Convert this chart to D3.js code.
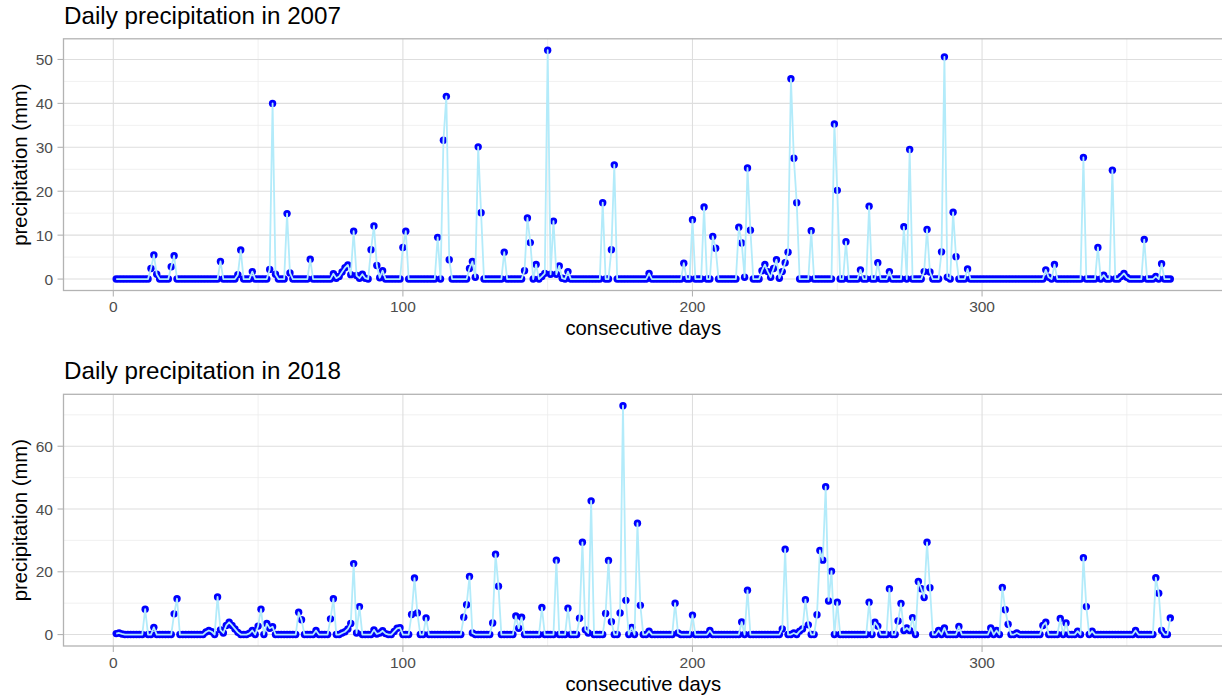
<!DOCTYPE html>
<html>
<head>
<meta charset="utf-8">
<script src="https://cdn.jsdelivr.net/npm/d3@7"></script>
<style>
html,body{margin:0;padding:0;background:#fff;}
svg{display:block;font-family:"Liberation Sans",Arial,Helvetica,sans-serif;}
</style>
</head>
<body>
<svg id="chart" width="1222" height="698"></svg>
<script>
// ---- data (mm per day, day 1..365) ----
const titles = ["Daily precipitation in 2007", "Daily precipitation in 2018"];
const xLabel = "consecutive days";
const yLabel = "precipitation (mm)";
const xTicks = [0, 100, 200, 300];
const yTicks2007 = [0, 10, 20, 30, 40, 50];
const yTicks2018 = [0, 20, 40, 60];

const precip2007 = [
  0,0,0,0,0,0,0,0,0,0,            // 1-10
  0,0,2.4,5.5,1.1,0,0,0,0,2.8,    // 11-20
  5.3,0,0,0,0,0,0,0,0,0,          // 21-30
  0,0,0,0,0,0,4.0,0,0,0,          // 31-40
  0,0,1.0,6.6,0,0,0,1.7,0,0,      // 41-50
  0,0,0,2.2,40.0,1.1,0,0,0,14.9,  // 51-60
  1.4,0,0,0,0,0,0,4.5,0,0,        // 61-70
  0,0,0,0,0,1.2,0.2,0.6,1.6,2.6,  // 71-80
  3.2,1.0,10.9,0.8,0.2,1.1,0.2,0,6.7,12.1, // 81-90
  3.1,0.3,1.9,0,0,0,0,0,0,7.2,    // 91-100
  10.9,0,0,0,0,0,0,0,0,0,         // 101-110
  0,9.5,0,31.6,41.6,4.4,0,0,0,0,  // 111-120
  0,0,2.4,4.0,0.4,30.1,15.1,0,0,0, // 121-130
  0,0,0,0,6.1,0,0,0,0,0,          // 131-140
  0,1.9,13.9,8.3,0,3.3,0,0.6,1.3,52.1, // 141-150
  1.1,13.2,1.1,3.0,0.2,0,1.7,0,0,0, // 151-160
  0,0,0,0,0,0,0,0,17.4,0,         // 161-170
  0,6.7,26.0,0,0,0,0,0,0,0,       // 171-180
  0,0,0,0,1.3,0,0,0,0,0,          // 181-190
  0,0,0,0,0,0,3.6,0,0,13.5,       // 191-200
  0,0,0,16.4,0,0,9.7,7.0,0,0,     // 201-210
  0,0,0,0,0,11.8,8.2,0.4,25.3,11.1, // 211-220
  0,0,0,1.9,3.3,1.7,0.4,2.4,4.4,0.2, // 221-230
  1.7,3.7,6.1,45.6,27.5,17.4,0,0,0,0, // 231-240
  11.0,0,0,0,0,0,0,0,35.3,20.2,   // 241-250
  0,0,8.5,0,0,0,0,2.1,0,0,        // 251-260
  16.6,0,0,3.7,0,0,0,1.7,0,0,     // 261-270
  0,0,11.9,0,29.5,0,0,0,0,1.7,    // 271-280
  11.3,1.6,0,0,0,6.2,50.6,0.4,0,15.2, // 281-290
  5.1,0,0,0,2.3,0,0,0,0,0,        // 291-300
  0,0,0,0,0,0,0,0,0,0,            // 301-310
  0,0,0,0,0,0,0,0,0,0,            // 311-320
  0,2.1,0.4,0,3.3,0,0,0,0,0,      // 321-330
  0,0,0,0,27.7,0,0,0,0,7.2,       // 331-340
  0,0.9,0,0,24.8,0,0,0.6,1.3,0.4, // 341-350
  0,0,0,0,0,9.0,0,0,0,0.6,        // 351-360
  0,3.5,0,0,0                     // 361-365
];

const precip2018 = [
  0.3,0.5,0.2,0,0,0,0,0,0,0,      // 1-10
  8.1,0,0,2.3,0,0,0,0,0,0,        // 11-20
  6.6,11.4,0,0,0,0,0,0,0,0,       // 21-30
  0,0.8,1.3,0.9,0,12.0,1.5,0.5,2.9,3.9, // 31-40
  2.9,1.8,0.7,0,0,0,0.4,1.3,0,2.7, // 41-50
  8.1,0,3.5,2.0,2.5,0,0,0,0,0,    // 51-60
  0,0,0,7.1,4.7,0,0,0,0,1.3,      // 61-70
  0,0,0,0,5.0,11.4,0,0,0.5,0.9,   // 71-80
  1.8,3.5,22.6,0.5,8.9,0,0,0,0,1.5, // 81-90
  0.2,0.5,1.2,0.3,0,0,1.0,2.0,2.2,0, // 91-100
  0,0,6.4,18.0,6.9,0,0,5.3,0,0,   // 101-110
  0,0,0,0,0,0,0,0,0,0,            // 111-120
  5.5,9.5,18.5,0.5,0,0,0,0,0,0,   // 121-130
  3.7,25.6,15.4,0,0,0,0,0,5.9,2.0, // 131-140
  5.5,0,0,0,0,0,0,8.6,0,0,        // 141-150
  0,0,23.7,0,0,0,8.4,0,0,0,       // 151-160
  5.2,29.4,1.5,0.5,42.6,0,0,0,0,6.7, // 161-170
  23.6,4.1,0,0,6.9,72.9,10.9,0,2.3,0, // 171-180
  35.5,9.3,0,0,1.1,0,0,0,0,0,     // 181-190
  0,0,0,10.0,0.5,0,0,0,0,6.2,     // 191-200
  0,0,0,0,0,1.3,0,0,0,0,          // 201-210
  0,0,0,0,0,0,4.0,0,14.1,0,       // 211-220
  0,0,0,0,0,0,0,0,0,0,            // 221-230
  1.8,27.2,0,0,0.5,0,1.1,1.8,11.1,3.1, // 231-240
  0,0,6.3,26.8,23.7,47.1,10.7,20.2,0,10.3, // 241-250
  0,0,0,0,0,0,0,0,0,0,            // 251-260
  10.3,0,3.9,2.7,0,0,0,14.6,0,0,  // 261-270
  4.3,9.9,1.3,2.1,1.3,5.4,0,16.9,14.6,11.8, // 271-280
  29.4,14.9,0,0,1.3,0,2.1,0,0,0,  // 281-290
  0,2.6,0,0,0,0,0,0,0,0,          // 291-300
  0,0,2.1,0,1.3,0,15.0,7.9,3.3,0, // 301-310
  0,0.5,0,0,0,0,0,0,0,0,          // 311-320
  2.9,3.9,0,0,0,0,5.1,0,3.7,0,    // 321-330
  0,0,1.1,0,24.5,8.9,0,1.1,0,0,   // 331-340
  0,0,0,0,0,0,0,0,0,0,            // 341-350
  0,0,1.3,0,0,0,0,0,0,18.1,       // 351-360
  13.2,1.3,0,0,5.3                // 361-365
];

// ---- drawing ----
const svg = d3.select("#chart");
const panels = [
  {title: titles[0], values: precip2007, yTicks: yTicks2007, top: 38.8},
  {title: titles[1], values: precip2018, yTicks: yTicks2018, top: 394.3}
];
const panelLeft = 63.5, panelRight = 1223, panelH = 251.7;

panels.forEach(p => {
  const data = p.values.map((v, i) => ({day: i + 1, v: v}));
  const n = data.length;
  const xExp = (n - 1) * 0.05;
  const x = d3.scaleLinear().domain([1 - xExp, n + xExp]).range([panelLeft, panelRight]);
  const ymax = d3.max(data, d => d.v);
  const yExp = ymax * 0.05;
  const top = p.top, bottom = p.top + panelH;
  const y = d3.scaleLinear().domain([-yExp, ymax + yExp]).range([bottom, top]);

  const g = svg.append("g");

  // minor gridlines
  const yStep = p.yTicks[1] - p.yTicks[0];
  const yMinor = [];
  for (let k = 0; k < p.yTicks.length; k++) yMinor.push(p.yTicks[k] + yStep / 2);
  const xMinor = [50, 150, 250, 350];
  g.selectAll(".ymin").data(yMinor.filter(t => y(t) > top)).enter().append("line")
    .attr("x1", panelLeft).attr("x2", panelRight).attr("y1", d => y(d)).attr("y2", d => y(d))
    .attr("stroke", "#ececec").attr("stroke-width", 0.8);
  g.selectAll(".xmin").data(xMinor).enter().append("line")
    .attr("y1", top).attr("y2", bottom).attr("x1", d => x(d)).attr("x2", d => x(d))
    .attr("stroke", "#ececec").attr("stroke-width", 0.8);
  // major gridlines
  g.selectAll(".ymaj").data(p.yTicks).enter().append("line")
    .attr("x1", panelLeft).attr("x2", panelRight).attr("y1", d => y(d)).attr("y2", d => y(d))
    .attr("stroke", "#dedede").attr("stroke-width", 1.1);
  g.selectAll(".xmaj").data(xTicks).enter().append("line")
    .attr("y1", top).attr("y2", bottom).attr("x1", d => x(d)).attr("x2", d => x(d))
    .attr("stroke", "#dedede").attr("stroke-width", 1.1);

  // points
  g.selectAll(".pt").data(data).enter().append("circle")
    .attr("cx", d => x(d.day)).attr("cy", d => y(d.v)).attr("r", 3.7)
    .attr("fill", "#0000ff");
  // line on top
  g.append("path").datum(data)
    .attr("d", d3.line().x(d => x(d.day)).y(d => y(d.v)))
    .attr("fill", "none").attr("stroke", "#b3ebfa").attr("stroke-width", 1.8)
    .attr("stroke-linejoin", "round");

  // panel border
  g.append("rect").attr("x", panelLeft).attr("y", top)
    .attr("width", panelRight - panelLeft).attr("height", panelH)
    .attr("fill", "none").attr("stroke", "#b3b3b3").attr("stroke-width", 1.3);

  // y axis ticks and labels
  g.selectAll(".yt").data(p.yTicks).enter().append("line")
    .attr("x1", panelLeft - 6).attr("x2", panelLeft).attr("y1", d => y(d)).attr("y2", d => y(d))
    .attr("stroke", "#b3b3b3").attr("stroke-width", 1.1);
  g.selectAll(".yl").data(p.yTicks).enter().append("text")
    .attr("x", panelLeft - 10.5).attr("y", d => y(d) + 5.5)
    .attr("text-anchor", "end").attr("font-size", 15.5).attr("fill", "#4d4d4d")
    .text(d => d);
  // x axis ticks and labels
  g.selectAll(".xt").data(xTicks).enter().append("line")
    .attr("y1", bottom).attr("y2", bottom + 6).attr("x1", d => x(d)).attr("x2", d => x(d))
    .attr("stroke", "#b3b3b3").attr("stroke-width", 1.1);
  g.selectAll(".xl").data(xTicks).enter().append("text")
    .attr("x", d => x(d)).attr("y", bottom + 21.5)
    .attr("text-anchor", "middle").attr("font-size", 15.5).attr("fill", "#4d4d4d")
    .text(d => d);

  // axis titles
  g.append("text").attr("x", (panelLeft + panelRight) / 2).attr("y", bottom + 44.5)
    .attr("text-anchor", "middle").attr("font-size", 20.3).attr("fill", "#000")
    .text(xLabel);
  g.append("text")
    .attr("transform", `translate(27,${(top + bottom) / 2}) rotate(-90)`)
    .attr("text-anchor", "middle").attr("font-size", 20.3).attr("fill", "#000")
    .text(yLabel);
  // title
  g.append("text").attr("x", 64).attr("y", top - 15)
    .attr("font-size", 24.2).attr("fill", "#000")
    .text(p.title);
});
</script>
</body>
</html>
